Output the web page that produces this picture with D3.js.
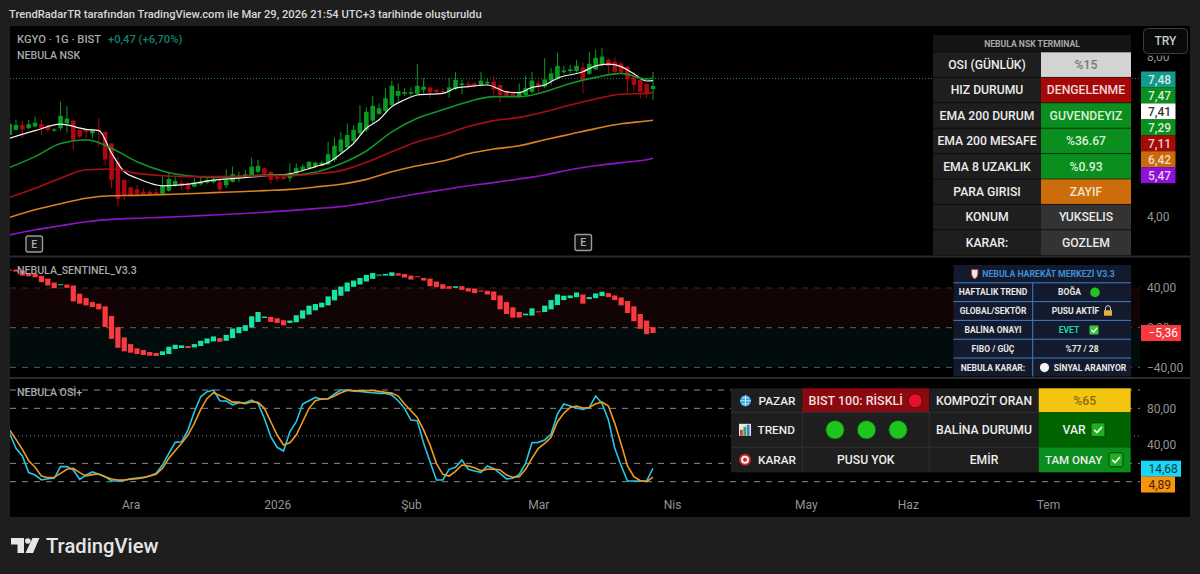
<!DOCTYPE html>
<html>
<head>
<meta charset="utf-8">
<script src="https://cdn.jsdelivr.net/npm/d3@7"></script>
<style>
  html, body { margin: 0; padding: 0; background: #1e1e1e; }
  svg { display: block; }
  text { font-family: Roboto, "Noto Sans", sans-serif; }
</style>
</head>
<body>
<svg width="1200" height="574"></svg>
<script>
// fiyat mumlari (KGYO, gunluk)
const opens = [
  6.05,6.18,6.30,6.22,6.26,6.32,6.29,6.16,6.22,6.34,
  6.41,6.18,6.18,6.09,6.19,6.13,5.84,5.38,4.93,4.74,
  4.69,4.63,4.63,4.62,4.58,4.66,4.80,4.86,4.82,4.76,
  4.82,4.86,4.87,4.88,4.79,4.88,4.97,5.01,5.05,5.13,
  5.22,5.13,5.01,5.01,4.97,5.09,5.18,5.22,5.26,5.28,
  5.32,5.43,5.63,5.74,5.90,6.09,6.18,6.41,6.58,6.65,
  6.80,7.03,7.08,7.08,7.08,7.18,7.24,7.18,7.15,7.14,
  7.22,7.30,7.33,7.34,7.30,7.34,7.38,7.30,7.15,7.12,
  7.01,7.05,7.13,7.34,7.26,7.41,7.47,7.62,7.65,7.65,
  7.74,7.58,7.69,7.80,7.93,7.88,7.84,7.76,7.51,7.43,7.32,7.20];
const highs = [
  6.43,6.44,6.41,6.43,6.51,6.43,6.29,6.22,6.88,6.77,
  6.41,6.18,6.19,6.19,6.47,6.13,5.84,5.51,4.93,4.76,
  4.80,4.72,4.68,4.72,5.01,5.13,5.01,4.93,4.88,4.97,
  5.01,5.01,5.01,5.01,5.19,5.26,5.13,5.18,5.49,5.43,
  5.22,5.15,5.05,5.05,5.34,5.34,5.32,5.40,5.38,5.40,
  5.88,5.99,6.13,6.34,6.30,6.80,6.74,7.03,6.84,7.22,
  7.41,7.34,7.22,7.24,7.83,7.47,7.24,7.19,7.22,7.47,
  7.62,7.44,7.41,7.37,7.63,7.47,7.53,7.30,7.15,7.12,
  7.34,7.53,7.63,7.41,7.97,7.72,8.11,7.78,7.80,7.93,
  7.86,8.13,8.19,8.22,7.97,7.99,7.88,7.78,7.63,7.47,7.34,7.63];
const lows = [
  6.01,6.16,5.97,6.19,6.24,6.05,6.13,6.13,6.16,6.11,
  5.68,5.97,5.97,5.97,5.76,5.30,4.72,4.26,4.43,4.51,
  4.55,4.55,4.51,4.55,4.58,4.63,4.76,4.68,4.61,4.74,
  4.79,4.82,4.84,4.61,4.72,4.86,4.88,4.97,5.03,5.09,
  5.05,4.83,4.88,4.93,4.88,5.05,5.13,5.18,5.22,5.26,
  5.30,5.38,5.59,5.72,5.84,6.05,6.13,6.34,6.55,6.61,
  6.76,6.88,7.03,7.03,7.05,7.09,6.98,7.07,7.07,6.98,
  7.18,7.08,7.24,7.24,7.26,7.30,7.05,6.86,7.01,7.01,
  6.98,7.01,7.09,7.08,7.22,7.30,7.43,7.57,7.59,7.61,
  7.09,7.55,7.67,7.76,7.55,7.59,7.59,7.11,7.13,6.97,6.97,6.93];
const closes = [
  6.33,6.30,6.19,6.32,6.36,6.22,6.18,6.19,6.53,6.46,
  5.93,6.01,6.13,6.19,6.16,5.44,4.93,4.45,4.55,4.55,
  4.58,4.58,4.57,4.57,4.77,4.95,4.90,4.79,4.70,4.86,
  4.88,4.93,4.93,4.69,4.93,5.07,5.03,5.07,5.26,5.28,
  5.08,4.93,4.95,4.95,5.08,5.22,5.26,5.38,5.36,5.36,
  5.57,5.78,5.94,6.05,6.18,6.36,6.63,6.78,6.72,6.97,
  7.28,7.15,7.12,7.12,7.28,7.26,7.12,7.12,7.12,7.24,
  7.43,7.34,7.29,7.28,7.41,7.38,7.19,7.05,7.03,7.03,
  7.11,7.22,7.41,7.28,7.44,7.59,7.78,7.66,7.69,7.78,
  7.43,7.83,7.98,8.01,7.78,7.63,7.63,7.44,7.30,7.13,7.09,7.28];

// EMA cizgileri (resimden okunan duraklar)
const emaBars = [0,4,8,12,16,20,24,28,32,36,40,44,48,52,56,60,64,68,72,76,80,84,88,92,96,100,101];
const emaGreen = [5.24,5.51,5.84,5.93,5.72,5.38,5.15,5.03,4.99,5.01,5.05,5.05,5.12,5.33,5.65,6.13,6.47,6.68,6.88,7.01,7.01,7.13,7.34,7.49,7.59,7.45,7.47];
const emaRed = [4.49,4.72,4.97,5.18,5.20,5.09,5.03,5.01,5.01,5.02,5.03,5.03,5.08,5.16,5.37,5.63,5.88,6.05,6.26,6.41,6.49,6.63,6.80,6.95,7.07,7.09,7.11];
const emaOrange = [3.99,4.18,4.33,4.47,4.53,4.54,4.56,4.58,4.61,4.63,4.66,4.69,4.75,4.82,4.94,5.13,5.28,5.40,5.58,5.70,5.78,5.93,6.07,6.21,6.33,6.40,6.42];
const emaPurple = [3.55,3.68,3.78,3.88,3.94,3.97,3.99,4.02,4.05,4.08,4.12,4.16,4.21,4.26,4.35,4.47,4.58,4.68,4.78,4.86,4.95,5.05,5.18,5.28,5.36,5.43,5.47];
const whiteBars = [0,4,8,12,14,16,18,20,24,28,32,36,40,44,48,50,52,54,56,58,60,62,64,68,70,72,75,78,80,82,84,86,90,92,94,96,98,100,101];
const emaWhite = [5.97,6.16,6.32,6.19,6.16,5.60,5.13,4.97,4.78,4.82,4.92,4.97,5.03,5.08,5.26,5.36,5.58,5.84,6.22,6.43,6.76,6.93,7.05,7.09,7.22,7.26,7.30,7.13,7.11,7.24,7.30,7.47,7.63,7.78,7.82,7.76,7.58,7.40,7.41];

// NEBULA_SENTINEL
const sentOpens = [
  58.5,58.5,57.5,55.2,54.8,52.2,49.5,45.5,43.2,43.5,
  42.5,34.2,29.8,25.8,24.2,21.5,11.8,0.5,-9.8,-16.5,
  -20.8,-22.5,-24.5,-25.5,-27.5,-26.5,-21.5,-20.5,-18.5,-19.8,
  -18.5,-15.8,-13.8,-10.5,-13.2,-10.5,-5.5,-3.2,0.2,5.8,
  9.8,10.8,9.5,7.5,4.8,5.5,9.2,13.2,17.5,20.5,
  22.5,27.5,32.2,36.5,41.2,43.5,46.5,49.2,52.5,52.5,
  52.2,54.8,54.2,52.5,51.8,50.2,49.5,46.5,43.8,41.8,
  40.2,41.8,39.8,39.5,37.5,37.2,36.5,32.5,25.8,20.5,
  15.8,12.5,12.2,16.5,15.8,18.5,22.8,27.8,29.8,30.8,
  33.5,28.8,29.8,31.8,34.8,32.5,30.5,26.8,21.5,13.8,7.2,0.5];
const sentCloses = [
  57.5,56.5,52.5,51.8,50.8,45.8,42.5,39.8,43.8,40.2,
  26.5,24.2,22.5,20.8,18.5,0.8,-11.2,-20.2,-23.8,-25.2,
  -26.5,-27.5,-28.2,-28.5,-23.8,-19.2,-17.2,-17.8,-20.5,-16.5,
  -13.2,-10.8,-8.8,-14.2,-7.2,-0.8,0.5,2.5,11.5,15.8,
  11.2,5.8,4.8,2.5,7.2,12.5,17.5,22.2,23.8,25.2,
  31.5,38.2,41.5,45.5,47.5,50.2,53.2,55.2,53.5,54.2,
  55.8,52.5,50.5,48.5,50.8,47.5,41.8,40.8,39.2,39.2,
  41.8,38.2,36.5,34.8,36.5,33.5,27.8,18.5,13.8,10.2,
  10.2,14.2,19.5,15.5,22.2,27.8,33.5,32.2,32.5,35.5,
  24.2,30.8,34.5,36.2,30.8,27.8,22.5,14.8,6.5,-1.2,-6.5,-5.36];

// NEBULA OSI+
const osiBlue = [
  52.7,36.4,28,9.9,7.3,1.9,3.3,3.7,16.4,16.4,
  12.8,2.6,7.3,10.6,8,5.5,0.8,0.8,1.5,3.3,
  4,4.8,6.2,9.1,18.2,30.9,42.9,43.6,56.3,76.3,
  92.6,98.1,99.9,88.3,87.9,83.9,86.1,86.1,89,85.4,
  69,49.1,37.5,33.5,54.5,65.4,84.7,88.3,91.9,90,
  90.5,95.6,100,100,98.8,98.5,97.7,97,96.3,96.3,
  94.5,88.3,80,67.2,66.5,41.8,21.8,1.9,1.9,13.5,
  15.7,23.7,13.5,11.7,10.2,17.1,14.2,9.1,3,3.7,
  8,20,42.5,42.9,45.4,52,73.8,84.7,82.5,80.3,
  78.8,81,93.4,85.4,67.2,36.4,17.5,0.8,0.8,0.8,0.8,14.68];
const osiOrange = [
  56.3,46.2,35.3,22.9,15.7,6.2,4.4,4.8,9.1,13.5,
  14.6,9.9,6.2,7.7,8.4,5.5,3,1.9,1.9,2.6,
  3.3,4.4,6.2,8,14.6,25.5,33.8,41.8,50.9,63.6,
  78.8,90.8,97,94.1,90.8,86.8,86.8,85,87.2,86.5,
  80,65.4,50.9,40,42.5,50.9,65.4,80,88.3,90.1,
  90.5,93.4,97,99.5,99.5,99.2,99.5,99.5,98.5,97.4,
  96.6,93.4,84.7,77.4,70.1,56.3,40,20,8,6.2,
  11.3,18.2,17.1,15.3,12,13.5,13.8,12.8,7.3,4.8,
  5.5,13.5,25.5,36.4,41.8,48.3,65.4,74.5,81,82.5,
  80.3,81,85,86.8,82.5,63.6,41.1,17.1,5.5,1.1,0,4.89];

// eksenler
const timeBars = [19,42,63,83,104,125,141,163];
const timeLabels = ["Ara","2026","Şub","Mar","Nis","May","Haz","Tem"];
const priceTicks = [8,4];
const sentTicks = [40,0,-40];
const osiTicks = [80,40];
const osiLevels = [100,80,20,0];

// fiyat etiketleri
const priceTags = ["7,48","7,47","7,41","7,29","7,11","6,42","5,47"];
const priceTagFill = ["#14998c","#0a8f1e","#ffffff","#0a8f1e","#a30a0a","#c96a0c","#8f10d6"];
const priceTagInk = ["#cfe8e4","#d5ecd5","#333333","#d5ecd5","#eecccc","#f0dcc0","#e6ccf5"];

// tablolar
const nskLabels = ["OSI (GÜNLÜK)","HIZ DURUMU","EMA 200 DURUM","EMA 200 MESAFE","EMA 8 UZAKLIK","PARA GIRISI","KONUM","KARAR:"];
const nskValues = ["%15","DENGELENME","GUVENDEYIZ","%36.67","%0.93","ZAYIF","YUKSELIS","GOZLEM"];
const nskFill = ["#d3d3d3","#a60808","#0a8f1e","#0a8f1e","#0a8f1e","#cc6c0a","#333333","#333333"];
const nskInk = ["#777777","#f0d8d8","#d8f0d8","#d8f0d8","#d8f0d8","#f5e2c8","#e8e8e8","#e8e8e8"];
const sentLabels = ["HAFTALIK TREND","GLOBAL/SEKTÖR","BALİNA ONAYI","FIBO / GÜÇ","NEBULA KARAR:"];
const sentValues = ["BOĞA","PUSU AKTİF","EVET","%77 / 28","SİNYAL ARANIYOR"];

const svg = d3.select("svg");

const x = d3.scaleLinear().domain([0, 101]).range([9.6, 653]);
const yPrice = d3.scaleLinear().domain([8, 4]).range([57, 217]);
const ySent = d3.scaleLinear().domain([40, -40]).range([288, 367.4]);
const yOsi = d3.scaleLinear().domain([0, 100]).range([481.7, 390]);

function label(g, px, py, str, size, fill, opts) {
    const o = opts || {};
    return g.append("text")
        .attr("x", px).attr("y", py)
        .attr("dy", "0.36em")
        .attr("text-anchor", o.anchor || "start")
        .attr("font-size", size)
        .attr("font-weight", o.weight || 400)
        .attr("fill", fill)
        .text(str);
}

function cell(g, px, py, w, h, fill, str, size, ink, weight) {
    g.append("rect").attr("x", px).attr("y", py).attr("width", w).attr("height", h).attr("fill", fill);
    if (str) label(g, px + w / 2, py + h / 2, str, size, ink, { anchor: "middle", weight: weight || 500 });
}

// zemin ve paneller
svg.append("rect").attr("width", 1200).attr("height", 574).attr("fill", "#1e1e1e");
svg.append("rect").attr("x", 10).attr("y", 26).attr("width", 1180).attr("height", 491).attr("fill", "#000");
label(svg, 9, 14, "TrendRadarTR tarafından TradingView.com ile Mar 29, 2026 21:54 UTC+3 tarihinde oluşturuldu", 11.2, "#d8d8d8", { weight: 500 });

svg.append("defs").append("clipPath").attr("id", "plot")
    .append("rect").attr("x", 10).attr("y", 26).attr("width", 1130).attr("height", 491);
const plot = svg.append("g").attr("clip-path", "url(#plot)");

// duyarlilik bolgeleri
plot.append("rect").attr("x", 10).attr("width", 1130)
    .attr("y", ySent(40)).attr("height", ySent(0) - ySent(40)).attr("fill", "#120404");
plot.append("rect").attr("x", 10).attr("width", 1130)
    .attr("y", ySent(0)).attr("height", ySent(-40) - ySent(0)).attr("fill", "#020c0d");

function hLine(py, color, dash) {
    plot.append("line").attr("x1", 10).attr("x2", 1140).attr("y1", py).attr("y2", py)
        .attr("stroke", color).attr("stroke-width", 1).attr("stroke-dasharray", dash);
}
hLine(78.5, "#2f7a6a", "1 2");
hLine(ySent(40), "#4a2226", "6 6");
hLine(ySent(0), "#666", "6 6");
hLine(ySent(-40), "#3c6660", "6 6");
osiLevels.forEach(v => hLine(yOsi(v), "#8a8a8a", "6 6"));
hLine(yOsi(50), "#8a8a8a", "1 3");

// mumlar
const bars = d3.range(opens.length);
const upColor = "#0b9a22", downColor = "#ab0812";
plot.append("g").selectAll("line").data(bars).join("line")
    .attr("x1", i => x(i)).attr("x2", i => x(i))
    .attr("y1", i => yPrice(highs[i])).attr("y2", i => yPrice(lows[i]))
    .attr("stroke", i => closes[i] >= opens[i] ? upColor : downColor);
plot.append("g").selectAll("rect").data(bars).join("rect")
    .attr("x", i => x(i) - 2.3).attr("width", 4.6)
    .attr("y", i => yPrice(Math.max(opens[i], closes[i])))
    .attr("height", i => Math.max(1, Math.abs(yPrice(opens[i]) - yPrice(closes[i]))))
    .attr("fill", i => closes[i] >= opens[i] ? upColor : downColor);

// EMA cizgileri
const emaLine = d3.line().curve(d3.curveMonotoneX).x(d => x(d[0])).y(d => yPrice(d[1]));
function drawEma(barIdx, vals, color, w) {
    plot.append("path")
        .attr("d", emaLine(barIdx.map((b, k) => [b, vals[k]])))
        .attr("fill", "none").attr("stroke", color).attr("stroke-width", w);
}
drawEma(whiteBars, emaWhite, "#f2f2f2", 1.2);
drawEma(emaBars, emaGreen, "#12952a", 1.6);
drawEma(emaBars, emaRed, "#a80f12", 1.6);
drawEma(emaBars, emaOrange, "#d9821e", 1.6);
drawEma(emaBars, emaPurple, "#8f14c8", 1.6);

// sentinel mumlari
plot.append("g").selectAll("rect").data(bars).join("rect")
    .attr("x", i => x(i) - 2.6).attr("width", 5.2)
    .attr("y", i => ySent(Math.max(sentOpens[i], sentCloses[i])))
    .attr("height", i => Math.max(1, Math.abs(ySent(sentOpens[i]) - ySent(sentCloses[i]))))
    .attr("fill", i => sentCloses[i] >= sentOpens[i] ? "#17e3a5" : "#fb3a3f");

// OSI cizgileri
const osiLine = d3.line().x((d, i) => x(i)).y(d => yOsi(d));
plot.append("path").attr("d", osiLine(osiBlue)).attr("fill", "none").attr("stroke", "#22c8e6").attr("stroke-width", 1.6);
plot.append("path").attr("d", osiLine(osiOrange)).attr("fill", "none").attr("stroke", "#f09a22").attr("stroke-width", 1.6);

// panel ayiricilar
[255.5, 377].forEach(py => svg.append("rect").attr("x", 10).attr("width", 1180)
    .attr("y", py).attr("height", 2).attr("fill", "#2b2b2b"));

// eksenler
function styleAxis(sel) {
    sel.select(".domain").remove();
    sel.selectAll("text").attr("font-size", 12).attr("fill", "#949494")
        .attr("font-family", "Roboto, 'Noto Sans', sans-serif");
}
const commaFmt = d => d3.format(".2f")(d).replace(".", ",").replace("-", "−");
svg.append("g").attr("transform", "translate(1147,0)")
    .call(d3.axisRight(yPrice).tickValues(priceTicks).tickSize(0).tickPadding(0).tickFormat(commaFmt))
    .call(styleAxis);
svg.append("g").attr("transform", "translate(1147,0)")
    .call(d3.axisRight(ySent).tickValues(sentTicks).tickSize(0).tickPadding(0).tickFormat(commaFmt))
    .call(styleAxis);
svg.append("g").attr("transform", "translate(1147,0)")
    .call(d3.axisRight(yOsi).tickValues(osiTicks).tickSize(0).tickPadding(0).tickFormat(commaFmt))
    .call(styleAxis);
svg.append("g").attr("transform", "translate(0,498)")
    .call(d3.axisBottom(x).tickValues(timeBars).tickSize(0).tickPadding(2).tickFormat((d, i) => timeLabels[i]))
    .call(styleAxis);

// sol ust baslik
label(svg, 17, 39, "KGYO · 1G · BIST", 11.2, "#a8a8a8", { weight: 500 });
label(svg, 108, 39, "+0,47 (+6,70%)", 11.2, "#15806d", { weight: 500 });
label(svg, 17, 55, "NEBULA NSK", 10.6, "#a8a8a8", { weight: 500 });
label(svg, 17, 270, "NEBULA_SENTINEL_V3.3", 10.6, "#a8a8a8", { weight: 500 });
label(svg, 17, 392, "NEBULA OSİ+", 10.6, "#a8a8a8", { weight: 500 });

// E isaretleri
[[26, 236], [575, 234.5]].forEach(p => {
    svg.append("rect").attr("x", p[0]).attr("y", p[1]).attr("width", 16.5).attr("height", 16).attr("rx", 2)
        .attr("fill", "#111").attr("stroke", "#9a9a9a").attr("stroke-width", 1.4);
    label(svg, p[0] + 8.25, p[1] + 8, "E", 10.5, "#b0b0b0", { anchor: "middle", weight: 500 });
});

// TRY dugmesi (8,00 etiketinin ustunu da ortuyor)
svg.append("rect").attr("x", 1141).attr("y", 26).attr("width", 49).attr("height", 29.5).attr("fill", "#000");
svg.append("rect").attr("x", 1143.5).attr("y", 28.5).attr("width", 44).attr("height", 25).attr("rx", 4)
    .attr("fill", "#0a0a0a").attr("stroke", "#3c3c3c");
label(svg, 1165.5, 41, "TRY", 12, "#c8c8c8", { anchor: "middle", weight: 500 });

// fiyat etiketleri
priceTags.forEach((t, i) => {
    const py = 71.5 + i * 15.95;
    svg.append("rect").attr("x", 1141).attr("y", py).attr("width", 34.5).attr("height", 16).attr("fill", priceTagFill[i]);
    label(svg, 1148, py + 8, t, 12, priceTagInk[i], { weight: 500 });
});
function valueTag(px, py, w, fill, str, ink) {
    svg.append("rect").attr("x", px).attr("y", py).attr("width", w).attr("height", 16).attr("fill", fill);
    label(svg, px + 7.5, py + 8, str, 12, ink, { weight: 400 });
}
valueTag(1141, 325, 40, "#f7383e", "−5,36", "#fff");
valueTag(1141, 460.7, 40, "#1ad8f5", "14,68", "#0f3a44");
valueTag(1141, 476.5, 34, "#f7940e", "4,89", "#3a2408");

// NSK terminal tablosu
const nsk = svg.append("g");
cell(nsk, 933, 35, 198, 17, "#141414", "NEBULA NSK TERMINAL", 8.6, "#a8a8a8", 700);
nskLabels.forEach((t, i) => {
    const py = 52 + i * 25.4;
    cell(nsk, 933, py, 108, 25.4, "#1e1e1e", t, 12.2, "#ececec", 500);
    cell(nsk, 1041, py, 90, 25.4, nskFill[i], nskValues[i], 12.2, nskInk[i], 500);
    nsk.append("line").attr("x1", 933).attr("x2", 1131).attr("y1", py).attr("y2", py).attr("stroke", "#000").attr("opacity", 0.55);
});

// sentinel tablosu
const sentCol = "#3d80c4";
const sent = svg.append("g");
sent.append("rect").attr("x", 953.5).attr("y", 265).attr("width", 177.5).attr("height", 111.5).attr("fill", "#131a2d");
label(sent, 1048.5, 274, "NEBULA HAREKÂT MERKEZİ V3.3", 8.7, "#3f8fd6", { anchor: "middle", weight: 700 });
// kalkan
sent.append("path").attr("d", "M971.5 269.5 h6.4 v4.5 q0 3 -3.2 5 q-3.2 -2 -3.2 -5 z").attr("fill", "#f1e3e3").attr("stroke", "#c8323a").attr("stroke-width", 0.8);
sentLabels.forEach((t, i) => {
    const py = 282.8 + i * 18.8;
    sent.append("line").attr("x1", 953.5).attr("x2", 1131).attr("y1", py).attr("y2", py).attr("stroke", sentCol);
    label(sent, 993, py + 9.6, t, 8.5, "#e6e6e6", { anchor: "middle", weight: 700 });
});
sent.append("line").attr("x1", 1032.7).attr("x2", 1032.7).attr("y1", 282.8).attr("y2", 376.5).attr("stroke", sentCol);
function sentRow(i) { return 282.8 + i * 18.8 + 9.6; }
label(sent, 1069.5, sentRow(0), sentValues[0], 8.5, "#e6e6e6", { anchor: "middle", weight: 700 });
sent.append("circle").attr("cx", 1095).attr("cy", sentRow(0)).attr("r", 4.8).attr("fill", "#22c41f");
label(sent, 1075.5, sentRow(1), sentValues[1], 8.5, "#e6e6e6", { anchor: "middle", weight: 700 });
// kilit
sent.append("path").attr("d", `M1105.5 ${sentRow(1) - 1} v-2 a2.5 2.5 0 0 1 5 0 v2`).attr("fill", "none").attr("stroke", "#d8d8d8").attr("stroke-width", 1);
sent.append("rect").attr("x", 1104).attr("y", sentRow(1) - 1).attr("width", 8).attr("height", 5.5).attr("fill", "#e0b040");
label(sent, 1069, sentRow(2), sentValues[2], 8.5, "#17d9a0", { anchor: "middle", weight: 700 });
sent.append("rect").attr("x", 1089.5).attr("y", sentRow(2) - 4.5).attr("width", 9).attr("height", 9).attr("fill", "#3cc43c");
sent.append("path").attr("d", `M1091.5 ${sentRow(2)} l2 2 l3.5 -4`).attr("fill", "none").attr("stroke", "#fff").attr("stroke-width", 1.2);
label(sent, 1082, sentRow(3), sentValues[3], 8.5, "#e6e6e6", { anchor: "middle", weight: 700 });
sent.append("circle").attr("cx", 1044.5).attr("cy", sentRow(4)).attr("r", 4.6).attr("fill", "#f4f4f4");
label(sent, 1090, sentRow(4), sentValues[4], 8.5, "#e6e6e6", { anchor: "middle", weight: 700 });

// OSI tablosu
const osi = svg.append("g");
const c0 = 731, c1 = 802.3, c2 = 929.3, c3 = 1038.7, c4 = 1130.7;
const r0 = 388.3, r1 = 412.3, r2 = 447.3, r3 = 472.3;
const ink = "#ececec";
cell(osi, c0, r0, c1 - c0, r1 - r0, "#1e1e1e");
cell(osi, c1, r0, c2 - c1, r1 - r0, "#8a0a0f");
cell(osi, c2, r0, c3 - c2, r1 - r0, "#1e1e1e", "KOMPOZİT ORAN", 12.2, ink);
cell(osi, c3, r0, c4 - c3, r1 - r0, "#f2c511", "%65", 12.2, "#8a6b10");
cell(osi, c0, r1, c1 - c0, r2 - r1, "#1e1e1e");
cell(osi, c1, r1, c2 - c1, r2 - r1, "#1e1e1e");
cell(osi, c2, r1, c3 - c2, r2 - r1, "#1e1e1e", "BALİNA DURUMU", 12.2, ink);
cell(osi, c3, r1, c4 - c3, r2 - r1, "#006400");
cell(osi, c0, r2, c1 - c0, r3 - r2, "#1e1e1e");
cell(osi, c1, r2, c2 - c1, r3 - r2, "#1e1e1e", "PUSU YOK", 12.2, ink);
cell(osi, c2, r2, c3 - c2, r3 - r2, "#1e1e1e", "EMİR", 12.2, ink);
cell(osi, c3, r2, c4 - c3, r3 - r2, "#0a8f1e");
[c1, c2].forEach(cx => osi.append("line").attr("x1", cx).attr("x2", cx).attr("y1", r1).attr("y2", r3).attr("stroke", "#333"));
[r1, r2].forEach(ry => osi.append("line").attr("x1", c0).attr("x2", c3).attr("y1", ry).attr("y2", ry).attr("stroke", "#333"));

const ym0 = (r0 + r1) / 2 + 0.5, ym1 = (r1 + r2) / 2, ym2 = (r2 + r3) / 2;
label(osi, 758.5, ym0, "PAZAR", 11.8, ink, { weight: 500 });
label(osi, 757.5, ym1, "TREND", 11.8, ink, { weight: 500 });
label(osi, 758, ym2, "KARAR", 11.8, ink, { weight: 500 });
label(osi, 808.5, ym0, "BIST 100: RİSKLİ", 12.5, "#f0dede", { weight: 500 });
osi.append("circle").attr("cx", 915.2).attr("cy", ym0).attr("r", 7).attr("fill", "#e8102a").attr("stroke", "#5a0a10");
[835, 866.5, 898].forEach(cx => osi.append("circle").attr("cx", cx).attr("cy", ym1).attr("r", 9.3)
    .attr("fill", "#1fc41f").attr("stroke", "#0c4d0c"));

function checkBox(px, py) {
    osi.append("rect").attr("x", px).attr("y", py - 7).attr("width", 14).attr("height", 14).attr("rx", 1.5)
        .attr("fill", "#1fb01f").attr("stroke", "#0a3c0a");
    osi.append("path").attr("d", `M${px + 3.2} ${py} l2.8 2.8 l5 -5.6`).attr("fill", "none").attr("stroke", "#fff").attr("stroke-width", 1.6);
}
label(osi, 1062.5, ym1, "VAR", 12.2, ink, { weight: 500 });
checkBox(1091, ym1);
label(osi, 1045, ym2, "TAM ONAY", 11.5, ink, { weight: 500 });
checkBox(1109, ym2);

// kucuk simgeler
osi.append("circle").attr("cx", 745.5).attr("cy", ym0).attr("r", 5.5).attr("fill", "#35a8e4");
osi.append("path").attr("d", `M740 ${ym0} h11 M745.5 ${ym0 - 5.5} v11 M742 ${ym0 - 3} h7 M742 ${ym0 + 3} h7`).attr("stroke", "#e8f4fb").attr("stroke-width", 0.8).attr("fill", "none");
osi.append("rect").attr("x", 739).attr("y", ym1 - 6).attr("width", 12).attr("height", 12).attr("fill", "#e8e8e8");
[[740, 6, "#e03c3c"], [743.4, 9, "#34a852"], [746.8, 11, "#3b7ddd"]].forEach(b => {
    osi.append("rect").attr("x", b[0]).attr("y", ym1 + 6 - b[1]).attr("width", 2.8).attr("height", b[1]).attr("fill", b[2]);
});
[[6, "#c92a2a"], [4, "#f2f2f2"], [2, "#c92a2a"]].forEach(t => {
    osi.append("circle").attr("cx", 745).attr("cy", ym2).attr("r", t[0]).attr("fill", t[1]);
});

// TradingView logosu
const logo = svg.append("g").attr("fill", "#e6e6e6");
logo.append("path").attr("d", "M11 538 h13 v15 h-6.5 v-8.5 h-6.5 z");
logo.append("circle").attr("cx", 27.8).attr("cy", 541).attr("r", 2.8);
logo.append("path").attr("d", "M32.5 538 h7 l-6.5 15 h-7.5 z");
label(svg, 46, 545.5, "TradingView", 20.2, "#e6e6e6", { weight: 500 });
</script>
</body>
</html>
